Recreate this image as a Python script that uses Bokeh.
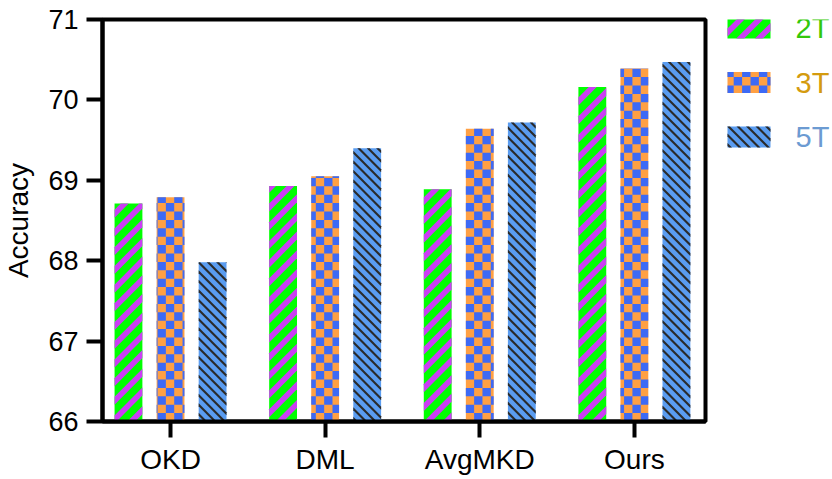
import math
from bokeh.plotting import figure
from bokeh.layouts import row
from bokeh.models import ColumnDataSource, Range1d, FixedTicker, Label
from bokeh.embed import file_html
from bokeh.resources import INLINE

# ---------------- data ----------------
methods = ["OKD", "DML", "AvgMKD", "Ours"]
series = ["2T", "3T", "5T"]
acc_2t = [68.71, 68.93, 68.89, 70.16]
acc_3t = [68.79, 69.05, 69.64, 70.39]
acc_5t = [67.98, 69.40, 69.72, 70.47]
y_ticks = [66, 67, 68, 69, 70, 71]
label_colors = ["#33c80a", "#d49b0f", "#6c9bd2"]

# ---------------- style / layout ----------------
FONT = "Liberation Sans"
BASE = y_ticks[0]
X0, X1 = 0.56, 4.46
FRAME_W, FRAME_H = 608, 402
SX = FRAME_W / (X1 - X0)                  # px per x unit
SY = FRAME_H / (y_ticks[-1] - y_ticks[0])  # px per accuracy unit
OFFSET = 0.272
BAR_W = 0.18
H = 479
TOP, BOTTOM = 19, 58

GREEN, PURPLE = "#00ff00", "#cc3df5"
ORANGE, BLUE = "#ffa043", "#3d6af5"
SKY, DARK = "#5a9cf0", "#2a2a2a"


# ---------------- pattern helpers (pixel space) ----------------
def clip_half(pts, f):
    out = []
    n = len(pts)
    for i in range(n):
        a, b = pts[i], pts[(i + 1) % n]
        fa, fb = f(a), f(b)
        if fa >= 0:
            out.append(a)
        if (fa >= 0) != (fb >= 0):
            t = fa / (fa - fb)
            out.append((a[0] + t * (b[0] - a[0]), a[1] + t * (b[1] - a[1])))
    return out


def stripes(x0, x1, y0, y1, period, width, direction):
    rect = [(x0, y0), (x1, y0), (x1, y1), (x0, y1)]
    if direction == "/":
        g = lambda q: q[0] - q[1]
    else:
        g = lambda q: q[0] + q[1]
    vals = [g(q) for q in rect]
    c = math.floor(min(vals) / period) * period - period
    polys = []
    while c < max(vals):
        poly = clip_half(rect, lambda q, c=c: g(q) - c)
        if len(poly) >= 3:
            poly = clip_half(poly, lambda q, c=c: c + width - g(q))
        if len(poly) >= 3:
            polys.append(poly)
        c += period
    return polys


def checker(x0, x1, y0, y1, cell):
    cells = []
    i0, i1 = math.floor(x0 / cell), math.ceil(x1 / cell)
    k0, k1 = math.floor(y0 / cell), math.ceil(y1 / cell)
    for i in range(i0, i1):
        for k in range(k0, k1):
            if (i + k) % 2:
                l, r = max(x0, i * cell), min(x1, (i + 1) * cell)
                b, t = max(y0, k * cell), min(y1, (k + 1) * cell)
                if r > l and t > b:
                    cells.append((l, r, b, t))
    return cells


def polys_xy(polys, sx, sy, base):
    return ([[q[0] / sx for q in poly] for poly in polys],
            [[q[1] / sy + base for q in poly] for poly in polys])


# ---------------- main figure ----------------
p = figure(width=708, height=H, output_backend="svg", toolbar_location=None,
           x_range=Range1d(X0, X1), y_range=Range1d(y_ticks[0], y_ticks[-1]),
           min_border_left=97, min_border_right=3, min_border_top=TOP,
           min_border_bottom=BOTTOM)

xpos = list(range(1, len(methods) + 1))
fills = [GREEN, ORANGE, SKY]
offsets = [-OFFSET, 0.0, OFFSET]
all_vals = [acc_2t, acc_3t, acc_5t]

for vals, off, col in zip(all_vals, offsets, fills):
    src = ColumnDataSource(dict(x=[xi + off for xi in xpos], top=vals))
    p.vbar(x="x", top="top", bottom=BASE, width=BAR_W, source=src,
           fill_color=col, line_color=None)

# overlay patterns derived from each bar
s_polys, c_cells, d_polys = [], [], []
for xi, v2, v3, v5 in zip(xpos, acc_2t, acc_3t, acc_5t):
    xc = xi - OFFSET
    s_polys += stripes((xc - BAR_W / 2) * SX, (xc + BAR_W / 2) * SX, 0,
                       (v2 - BASE) * SY, 18.7, 8.0, "/")
    xc = xi
    c_cells += checker((xc - BAR_W / 2) * SX, (xc + BAR_W / 2) * SX, 0,
                       (v3 - BASE) * SY, 8.4)
    xc = xi + OFFSET
    d_polys += stripes((xc - BAR_W / 2) * SX, (xc + BAR_W / 2) * SX, 0,
                       (v5 - BASE) * SY, 9.5, 3.0, "\\")

xs, ys = polys_xy(s_polys, SX, SY, BASE)
p.patches(xs=xs, ys=ys, fill_color=PURPLE, line_color=None)
xs, ys = polys_xy(d_polys, SX, SY, BASE)
p.patches(xs=xs, ys=ys, fill_color=DARK, line_color=None)
p.quad(left=[c[0] / SX for c in c_cells], right=[c[1] / SX for c in c_cells],
       bottom=[c[2] / SY + BASE for c in c_cells],
       top=[c[3] / SY + BASE for c in c_cells],
       fill_color=BLUE, line_color=None)

p.xgrid.visible = False
p.ygrid.visible = False
p.outline_line_color = "black"
p.outline_line_width = 4
p.outline_line_alpha = 1

p.xaxis.ticker = FixedTicker(ticks=xpos)
p.xaxis.major_label_overrides = {xi: m for xi, m in zip(xpos, methods)}
p.yaxis.ticker = FixedTicker(ticks=y_ticks)
p.yaxis.axis_label = "Accuracy"
for ax in (p.xaxis[0], p.yaxis[0]):
    ax.axis_line_width = 4
    ax.axis_line_color = "black"
    ax.major_tick_line_width = 4
    ax.major_tick_line_color = "black"
    ax.major_tick_out = 16
    ax.major_tick_in = 0
    ax.minor_tick_line_color = None
    ax.major_label_text_font = FONT
    ax.major_label_text_color = "black"
    ax.axis_label_text_font = FONT
    ax.axis_label_text_font_size = "28px"
    ax.axis_label_text_font_style = "normal"
    ax.axis_label_text_color = "black"
p.yaxis.major_label_text_font_size = "27px"
p.xaxis.major_label_text_font_size = "28px"
p.yaxis.major_label_standoff = 8
p.yaxis.axis_label_standoff = 11
p.xaxis.major_label_standoff = 6

# ---------------- legend panel (frame aligned with main frame, 1 unit = 1 px) ----
LW = 124
LFH = H - TOP - BOTTOM
p2 = figure(width=LW, height=H, output_backend="svg", toolbar_location=None,
            x_range=Range1d(0, LW), y_range=Range1d(0, LFH),
            x_axis_location=None, y_axis_location=None,
            min_border_left=0, min_border_right=0,
            min_border_top=TOP, min_border_bottom=BOTTOM)
p2.grid.visible = False
p2.outline_line_color = None

# legend rows: pixel rows 27.5, 82, 136.5 from page top -> frame units
sw_left, sw_right, sw_half = 19, 62, 10.5
centers = [LFH + TOP - 27.5 - i * 54.5 for i in range(len(series))]
p2.quad(left=[sw_left] * 3, right=[sw_right] * 3,
        bottom=[c - sw_half for c in centers], top=[c + sw_half for c in centers],
        fill_color=fills, line_color=None)
lp = stripes(sw_left, sw_right, centers[0] - sw_half, centers[0] + sw_half, 18.7, 8.0, "/")
xs, ys = polys_xy(lp, 1, 1, 0)
p2.patches(xs=xs, ys=ys, fill_color=PURPLE, line_color=None)
lc = checker(sw_left, sw_right, centers[1] - sw_half, centers[1] + sw_half, 8.4)
p2.quad(left=[c[0] for c in lc], right=[c[1] for c in lc],
        bottom=[c[2] for c in lc], top=[c[3] for c in lc],
        fill_color=BLUE, line_color=None)
ld = stripes(sw_left, sw_right, centers[2] - sw_half, centers[2] + sw_half, 9.5, 3.0, "\\")
xs, ys = polys_xy(ld, 1, 1, 0)
p2.patches(xs=xs, ys=ys, fill_color=DARK, line_color=None)

for lab, col, cy in zip(series, label_colors, centers):
    p2.add_layout(Label(x=87, y=cy, text=lab, text_color=col, text_font=FONT,
                        text_font_size="29px", text_baseline="middle",
                        text_align="left"))

layout = row(p, p2)
open("out.html", "w").write(file_html(layout, INLINE))
